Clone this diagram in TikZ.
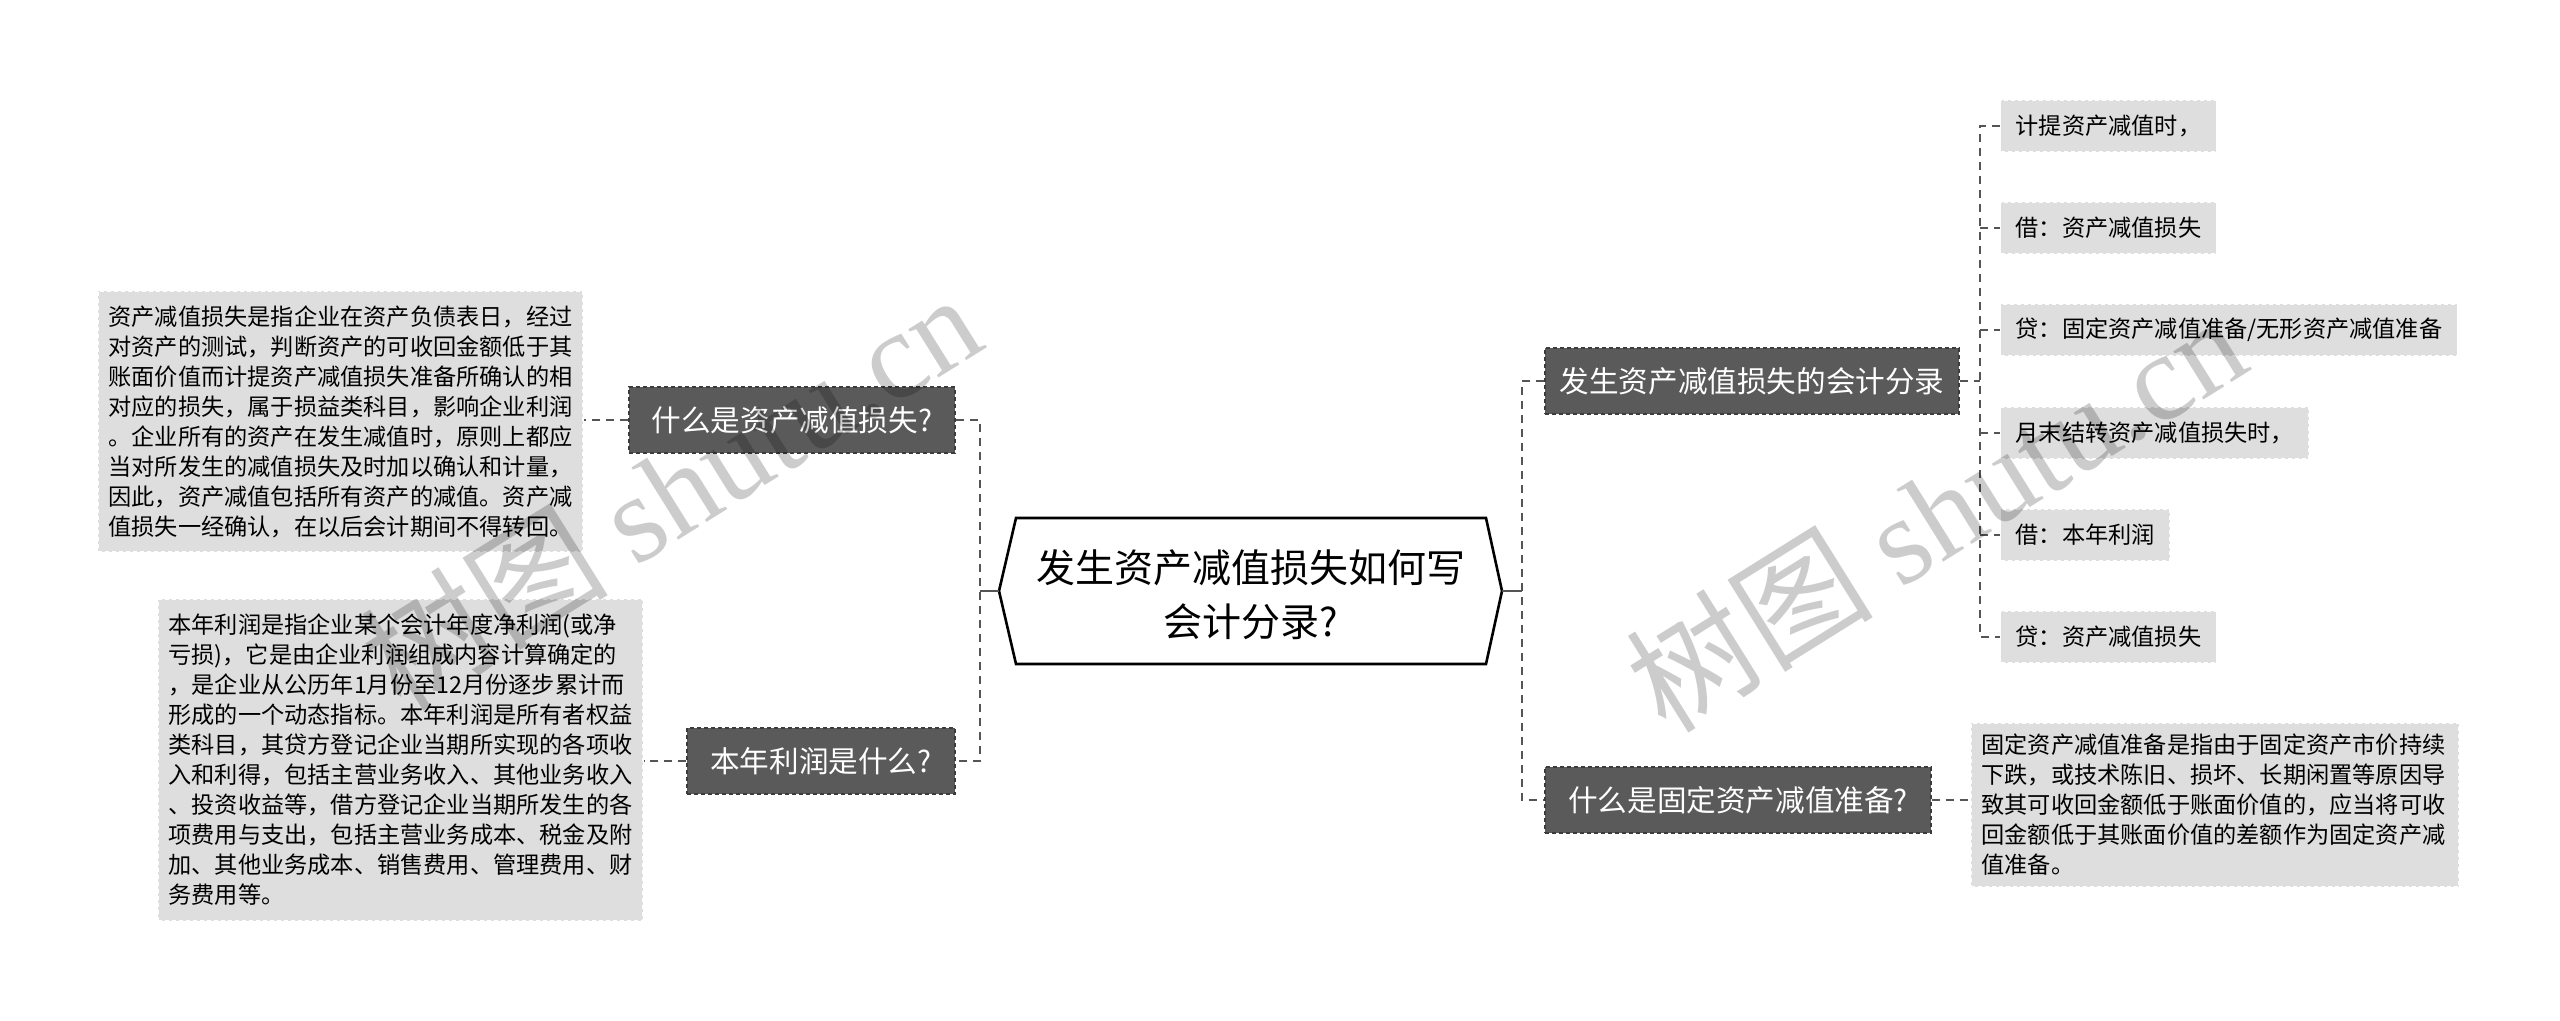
\documentclass[tikz,border=0pt]{standalone}
\usepackage{fontspec}
\setmainfont{Noto Sans CJK SC}
\newfontfamily\wmserif{Liberation Serif}
\definecolor{darkfill}{HTML}{5A5A5A}
\definecolor{lightfill}{HTML}{DEDEDE}
\definecolor{linecol}{HTML}{555555}
\definecolor{darkedge}{HTML}{3C3C3C}
\begin{document}
\begin{tikzpicture}[x=0.5pt,y=-0.5pt,
  conn/.style={draw=linecol, line width=0.9pt, dash pattern=on 4pt off 3pt},
  stem/.style={draw=linecol, line width=1.4pt},
  darkbox/.style={fill=darkfill, draw=darkedge, dash pattern=on 2pt off 1.5pt, line width=0.6pt, text=white, font=\fontsize{14.8pt}{18pt}\selectfont, minimum height=33pt, inner sep=0pt},
  leafbox/.style={fill=lightfill, draw=white, dash pattern=on 2pt off 1.5pt, line width=0.6pt, font=\fontsize{11.6pt}{14pt}\selectfont, minimum height=26pt, inner xsep=7.5pt, inner ysep=0pt, anchor=west},
  textbox/.style={fill=lightfill, draw=white, dash pattern=on 2pt off 1.5pt, line width=0.6pt, font=\fontsize{11.6pt}{15pt}\selectfont, align=left, text width=232pt, inner xsep=5.25pt, inner ysep=0pt},
  wm/.style={text=black, text opacity=0.2, rotate=32, font=\fontsize{62pt}{62pt}\selectfont}
]
\useasboundingbox (0,0) rectangle (2560,1021);

% central hexagon
\coordinate (rootW) at (999,591);
\coordinate (rootE) at (1502,591);
\draw[line width=1.3pt, fill=white, line join=miter] (rootW) -- (1016,518) -- (1486,518) -- (rootE) -- (1486,664) -- (1016,664) -- cycle;
\node[align=center, font=\fontsize{19.5pt}{27pt}\selectfont] (root) at (1251,595) {发生资产减值损失如何写\\会计分录?};

% first level
\node[darkbox, minimum width=163pt] (L1) at (792,420) {什么是资产减值损失?};
\node[darkbox, minimum width=134pt] (L2) at (821,761) {本年利润是什么?};
\node[darkbox, minimum width=207pt] (R1) at (1752,381) {发生资产减值损失的会计分录};
\node[darkbox, minimum width=193pt] (R2) at (1738,800) {什么是固定资产减值准备?};

% text boxes
\node[textbox, minimum height=130.5pt] (TL) at (340.5,421.5) {资产减值损失是指企业在资产负债表日，经过\\对资产的测试，判断资产的可收回金额低于其\\账面价值而计提资产减值损失准备所确认的相\\对应的损失，属于损益类科目，影响企业利润\\。企业所有的资产在发生减值时，原则上都应\\当对所发生的减值损失及时加以确认和计量，\\因此，资产减值包括所有资产的减值。资产减\\值损失一经确认，在以后会计期间不得转回。};
\node[textbox, minimum height=161pt] (TB) at (400.5,760) {本年利润是指企业某个会计年度净利润(或净\\亏损)，它是由企业利润组成内容计算确定的\\，是企业从公历年1月份至12月份逐步累计而\\形成的一个动态指标。本年利润是所有者权益\\类科目，其贷方登记企业当期所实现的各项收\\入和利得，包括主营业务收入、其他业务收入\\、投资收益等，借方登记企业当期所发生的各\\项费用与支出，包括主营业务成本、税金及附\\加、其他业务成本、销售费用、管理费用、财\\务费用等。};
\node[textbox, minimum height=82pt, text width=233.5pt] (TR) at (2215,805) {固定资产减值准备是指由于固定资产市价持续\\下跌，或技术陈旧、损坏、长期闲置等原因导\\致其可收回金额低于账面价值的，应当将可收\\回金额低于其账面价值的差额作为固定资产减\\值准备。};

% leaves
\node[leafbox] (A1) at (2000,126) {计提资产减值时，};
\node[leafbox] (A2) at (2000,228) {借：资产减值损失};
\node[leafbox] (A3) at (2000,330) {贷：固定资产减值准备/无形资产减值准备};
\node[leafbox] (A4) at (2000,433) {月末结转资产减值损失时，};
\node[leafbox] (A5) at (2000,535) {借：本年利润};
\node[leafbox] (A6) at (2000,637) {贷：资产减值损失};

% connectors
\coordinate (lbus) at (980,591);
\coordinate (rbus) at (1522,591);
\coordinate (abus) at (1980,381);
\draw[stem] (rootW) -- (lbus);
\draw[stem] (rootE) -- (rbus);
\draw[conn] (L1.east) -- (L1.east -| lbus) -- (L2.east -| lbus) -- (L2.east);
\draw[conn] (L1.west) -- (TL.east |- L1.west);
\draw[conn] (L2.west) -- (TB.east |- L2.west);
\draw[conn] (R1.west) -- (R1.west -| rbus) -- (R2.west -| rbus) -- (R2.west);
\draw[conn] (R2.east) -- (R2.east -| TR.west);
\draw[conn] (R1.east) -- (abus);
\draw[conn] (A1.west) -- (A1.west -| abus) -- (A6.west -| abus) -- (A6.west);
\foreach \n in {2,...,5} \draw[conn] (A\n.west -| abus) -- (A\n.west);

% watermarks
\node[wm] (wm1) at (670,490) {树图 {\wmserif shutu.cn}};
\node[wm] (wm2) at (1935,512) {树图 {\wmserif shutu.cn}};
\end{tikzpicture}
\end{document}
